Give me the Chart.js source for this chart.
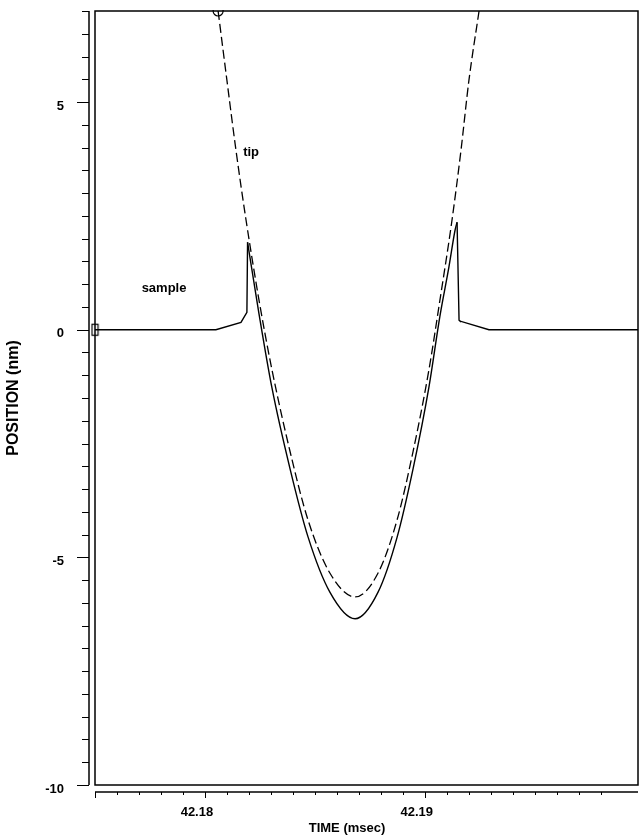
<!DOCTYPE html>
<html>
<head>
<meta charset="utf-8">
<title>Tip and sample position</title>
<script src="https://cdn.jsdelivr.net/npm/chart.js@4/dist/chart.umd.min.js"></script>
<style>
  html, body { margin: 0; padding: 0; background: #fff; }
  canvas { display: block; }
</style>
</head>
<body>
<canvas id="chart1" width="639" height="836"></canvas>
<script>
// sample surface: flat, snaps up to the tip, follows it down and back, then relaxes
var sampleLeftTime = [42.17500, 42.18050, 42.18164, 42.18191, 42.18194];
var sampleLeftNm   = [0, 0, 0.16, 0.38, 1.92];

var sampleDipTime = [42.18194, 42.18246, 42.18305, 42.18387, 42.18469, 42.18569, 42.18683,
                     42.18787, 42.18874, 42.18947, 42.19019, 42.19069, 42.19110, 42.19138, 42.19147];
var sampleDipNm   = [1.92, 0.35, -1.28, -3.05, -4.55, -5.77, -6.35,
                     -5.77, -4.56, -3.05, -1.26, 0.30, 1.38, 2.19, 2.36];

var sampleRightTime = [42.19147, 42.19156, 42.19160, 42.19292, 42.19970];
var sampleRightNm   = [2.36, 0.21, 0.19, 0, 0];

// tip trajectory (dashed)
var tipTime = [42.18060, 42.18100, 42.18141, 42.18187, 42.18246, 42.18305, 42.18387, 42.18469,
               42.18569, 42.18683, 42.18787, 42.18874, 42.18947, 42.19019, 42.19069, 42.19124,
               42.19165, 42.19201, 42.19247];
var tipNm   = [7.0, 5.48, 3.95, 2.41, 0.65, -0.88, -2.67, -4.18,
               -5.35, -5.87, -5.35, -4.18, -2.67, -0.88, 0.65, 2.41,
               3.95, 5.48, 7.0];

var xLabels = [42.18, 42.19];
var yLabels = [-10, -5, 0, 5];

var notes = [
    { text: 'tip', x: 42.18210, y: 3.90 },
    { text: 'sample', x: 42.17814, y: 0.91 }
];

function toPoints(times, values) {
    var pts = [];
    for (var i = 0; i < times.length; i++) {
        pts.push({ x: times[i], y: values[i] });
    }
    return pts;
}

function isXLabel(v) {
    for (var i = 0; i < xLabels.length; i++) {
        if (Math.abs(v - xLabels[i]) < 1e-7) return true;
    }
    return false;
}

function onGrid(v, step) {
    return Math.abs(v / step - Math.round(v / step)) < 1e-4;
}

// little open box that marks the start of the sample trace
var startBox = document.createElement('canvas');
startBox.width = 9;
startBox.height = 14;
var sb = startBox.getContext('2d');
sb.strokeStyle = '#000';
sb.lineWidth = 1.2;
sb.strokeRect(1.5, 1.5, 6, 11);

var FONT = 'Liberation Sans, Arial, Helvetica, sans-serif';
var CLEAR = 'rgba(0,0,0,0)';

var oldAxes = {
    id: 'oldAxes',
    afterDraw: function(chart) {
        var ctx = chart.ctx;
        var a = chart.chartArea;
        var x = chart.scales.x;
        var y = chart.scales.y;
        ctx.save();
        ctx.strokeStyle = '#000';
        ctx.fillStyle = '#000';

        // plot frame
        ctx.lineWidth = 1.5;
        ctx.strokeRect(a.left, a.top, a.right - a.left, a.bottom - a.top);

        // y axis, set off to the left of the frame
        var yLine = a.left - 6;
        ctx.beginPath();
        ctx.moveTo(yLine, a.top);
        ctx.lineTo(yLine, a.bottom);
        ctx.stroke();
        ctx.lineWidth = 1;
        y.ticks.forEach(function(t) {
            if (!onGrid(t.value, 0.5)) return;
            var py = Math.round(y.getPixelForValue(t.value)) + 0.5;
            var len = yLabels.indexOf(t.value) >= 0 ? 12 : 7;
            ctx.beginPath();
            ctx.moveTo(yLine - len, py);
            ctx.lineTo(yLine, py);
            ctx.stroke();
        });

        // x axis, set off below the frame
        var xLine = a.bottom + 7;
        ctx.lineWidth = 1.3;
        ctx.beginPath();
        ctx.moveTo(a.left, xLine);
        ctx.lineTo(a.right, xLine);
        ctx.stroke();
        ctx.lineWidth = 1;
        x.ticks.forEach(function(t) {
            if (!onGrid(t.value, 0.001)) return;
            var px = Math.round(x.getPixelForValue(t.value)) + 0.5;
            var len = (isXLabel(t.value) || t.value === x.min) ? 6 : 3;
            ctx.beginPath();
            ctx.moveTo(px, xLine);
            ctx.lineTo(px, xLine + len);
            ctx.stroke();
        });

        // axis title under the time axis
        ctx.font = 'bold 13px ' + FONT;
        ctx.textAlign = 'center';
        ctx.textBaseline = 'middle';
        ctx.fillText('TIME (msec)', 347, 828);

        // curve notes
        notes.forEach(function(n) {
            ctx.fillText(n.text, x.getPixelForValue(n.x), y.getPixelForValue(n.y));
        });
        ctx.restore();
    }
};

var lineBase = {
    borderColor: '#000',
    borderWidth: 1.4,
    pointRadius: 0,
    showLine: true,
    fill: false
};

var ctx = document.getElementById('chart1').getContext('2d');
var chartObj = new Chart(ctx, {
    type: 'scatter',
    data: {
        datasets: [
            Object.assign({}, lineBase, {
                label: 'tip',
                data: toPoints(tipTime, tipNm),
                borderDash: [9, 4],
                borderWidth: 1.3,
                cubicInterpolationMode: 'monotone',
                pointRadius: tipTime.map(function(t, i) { return i === 0 ? 5 : 0; }),
                pointBorderColor: '#000',
                pointBackgroundColor: CLEAR,
                pointBorderWidth: 1.2,
                clip: 1
            }),
            Object.assign({}, lineBase, {
                label: 'sample',
                data: toPoints(sampleLeftTime, sampleLeftNm),
                tension: 0,
                pointRadius: sampleLeftTime.map(function(t, i) { return i === 0 ? 4 : 0; }),
                pointStyle: sampleLeftTime.map(function(t, i) { return i === 0 ? startBox : 'circle'; }),
                clip: false
            }),
            Object.assign({}, lineBase, {
                label: 'sample dip',
                data: toPoints(sampleDipTime, sampleDipNm),
                cubicInterpolationMode: 'monotone'
            }),
            Object.assign({}, lineBase, {
                label: 'sample release',
                data: toPoints(sampleRightTime, sampleRightNm),
                tension: 0
            })
        ]
    },
    options: {
        responsive: false,
        animation: false,
        layout: { autoPadding: false, padding: { top: 11, right: 1, left: 0, bottom: 0 } },
        plugins: {
            legend: { display: false },
            tooltip: { enabled: false }
        },
        scales: {
            x: {
                type: 'linear',
                min: 42.175,
                max: 42.1997,
                afterFit: function(s) { s.height = 51; },
                // invisible tick marks only push the labels down; the real ticks come from oldAxes
                grid: { display: true, drawOnChartArea: false, drawTicks: true, tickLength: 20, color: CLEAR, tickColor: CLEAR },
                border: { display: false },
                ticks: {
                    stepSize: 0.001,
                    autoSkip: false,
                    maxRotation: 0,
                    padding: 0,
                    labelOffset: -8,
                    color: '#000',
                    font: { family: FONT, size: 13, weight: 'bold' },
                    callback: function(v) { return isXLabel(v) ? v.toFixed(2) : ''; }
                }
            },
            y: {
                type: 'linear',
                min: -10,
                max: 7,
                afterFit: function(s) { s.width = 95; },
                grid: { display: true, drawOnChartArea: false, drawTicks: true, tickLength: 31, color: CLEAR, tickColor: CLEAR },
                border: { display: false },
                title: {
                    display: true,
                    text: 'POSITION (nm)',
                    color: '#000',
                    font: { family: FONT, size: 16, weight: 'bold' },
                    padding: { top: 4, bottom: 0 }
                },
                ticks: {
                    stepSize: 0.5,
                    autoSkip: false,
                    padding: 0,
                    labelOffset: 4,
                    color: '#000',
                    font: { family: FONT, size: 13, weight: 'bold' },
                    callback: function(v) { return yLabels.indexOf(v) >= 0 ? String(v) : ''; }
                }
            }
        }
    },
    plugins: [oldAxes]
});
</script>
</body>
</html>
